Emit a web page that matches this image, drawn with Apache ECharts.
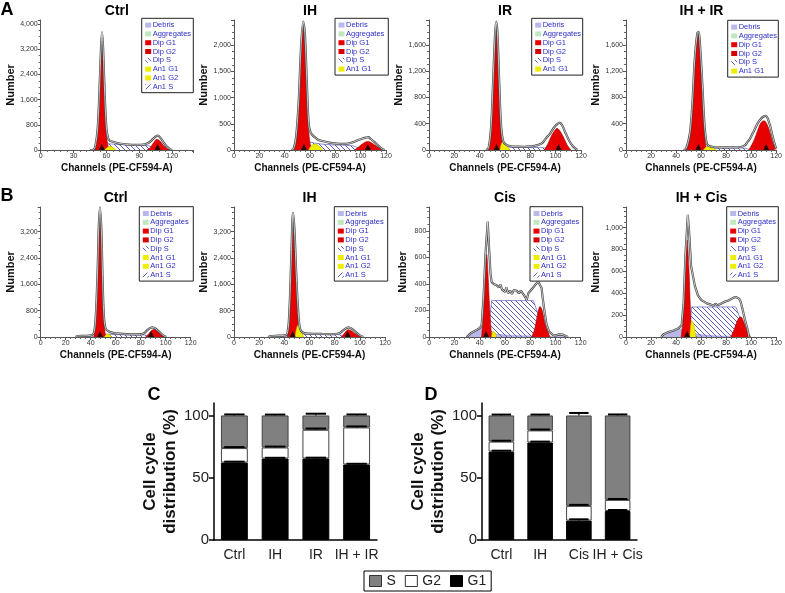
<!DOCTYPE html>
<html><head><meta charset="utf-8">
<script src="https://cdn.jsdelivr.net/npm/echarts@6/dist/echarts.min.js"></script>
<style>html,body{margin:0;padding:0;background:#fff}#c{width:785px;height:593px}</style>
</head><body><div id="c"></div>
<script>
// ================= DATA =================
const histTitles = ['Ctrl', 'IH', 'IR', 'IH + IR', 'Ctrl', 'IH', 'Cis', 'IH + Cis'];
const histLegendNames = ['Debris', 'Aggregates', 'Dip G1', 'Dip G2', 'Dip S', 'An1 G1', 'An1 G2', 'An1 S'];

// Panel A – Ctrl
const aCtrlTotal = [[45,0],[48,10],[50,150],[52,700],[53.5,1800],[55,3200],[56,3740],[57,3200],[58.5,1700],[60,700],[61.5,380],[63,300],[66,260],[70,220],[75,190],[80,170],[85,160],[90,165],[95,180],[98,220],[101,300],[104,400],[106.5,455],[109,400],[112,250],[115,110],[118,30],[120,0]];
const aCtrlG1 = [[48,0],[50,120],[52,650],[53.5,1700],[55,3100],[55.8,3550],[57,3050],[58.5,1500],[60,500],[61.5,120],[63,0]];
const aCtrlG2 = [[97,0],[100,80],[103,230],[106,340],[109,280],[112,150],[115,50],[118,0]];
const aCtrlS = [[57,0],[60,200],[65,190],[75,165],[85,150],[95,150],[99,130],[103,60],[106,0]];
const aCtrlAn1 = [[58,0],[61,90],[63,120],[65,100],[67,50],[69,0]];
const aCtrlMarks = [55.8, 106.7];
// Panel A – IH
const aIhTotal = [[45,0],[47,20],[49,250],[51,900],[53,2000],[54.7,2450],[56,2200],[57.5,1300],[59,500],[60.5,330],[63,260],[66,200],[70,170],[75,140],[80,125],[85,115],[90,120],[94,150],[98,190],[101,215],[104,235],[106,245],[108,210],[111,150],[114,80],[117,20],[119,0]];
const aIhG1 = [[47,0],[49,200],[51,850],[53,1900],[54.7,2360],[56,2050],[57.5,1150],[59,350],[60.5,60],[61.5,0]];
const aIhG2 = [[95,0],[98,50],[101,110],[104,155],[106,160],[109,130],[112,80],[115,30],[118,0]];
const aIhS = [[58,0],[60,150],[64,130],[70,110],[80,95],[88,90],[94,80],[98,40],[101,0]];
const aIhAn1 = [[59,0],[61,80],[64,115],[67,80],[69,30],[70,0]];
const aIhMarks = [55.2, 105.7];
// Panel A – IR
const aIrTotal = [[45,0],[47,30],[49,350],[50.5,1000],[52,1700],[53,1955],[54,1800],[55.5,1000],[57,350],[58.7,130],[61,80],[65,55],[70,50],[75,48],[80,55],[85,70],[89,100],[92,170],[95.7,254],[99,350],[101,390],[103,416],[105,380],[108,250],[111,130],[114,50],[117,0]];
const aIrG1 = [[47,0],[49,300],[50.5,950],[52,1650],[53,1905],[54,1720],[55.5,900],[57,250],[58.5,0]];
const aIrG2 = [[91,0],[94,100],[97,230],[100,315],[101,330],[103,300],[106,200],[109,80],[112,0]];
const aIrS = [[57,0],[59,60],[62,45],[70,38],[80,38],[88,40],[92,30],[95,0]];
const aIrAn1 = [[56,0],[58,120],[60,100],[62,50],[64,0]];
const aIrMarks = [53.4, 102.3];
// Panel A – IH + IR
const aIhIrTotal = [[46,0],[48,20],[51,250],[53,700],[55,1400],[57,1780],[58,1800],[59,1650],[61,1000],[62.5,450],[64,150],[65.5,70],[70,45],[80,40],[90,42],[95,70],[97,120],[99,170],[102,280],[105,400],[108,480],[110,510],[111.5,521],[113,490],[115,380],[117,220],[119,80],[120,20]];
const aIhIrG1 = [[48,0],[50,100],[52,380],[54,1000],[56,1600],[57.9,1764],[59,1600],[61,850],[62.5,300],[64,40],[65,0]];
const aIhIrG2 = [[98,0],[100,60],[103,180],[106,340],[108,420],[110.2,445],[112,420],[114,330],[116,200],[118,80],[120,10]];
const aIhIrS = [[62,0],[64,40],[68,35],[75,30],[85,28],[93,30],[96,25],[99,0]];
const aIhIrAn1 = [[62,0],[64,45],[67,55],[70,35],[72,0]];
const aIhIrMarks = [57.9, 112];
// Panel B – Ctrl
const bCtrlTotal = [[28,0],[30,30],[35,35],[40,50],[42.5,120],[44,600],[45.5,2000],[46.5,3400],[47.4,3930],[48.5,3300],[49.5,1800],[50.5,700],[52,250],[55,160],[58,125],[63,100],[69,85],[75,80],[80,85],[83,120],[85,200],[87,260],[89.6,290],[92,250],[95,150],[98,50],[100.5,0]];
const bCtrlG1 = [[42.5,0],[44,500],[45.5,1900],[46.5,3250],[47.4,3800],[48.5,3150],[49.5,1650],[50.5,550],[51.5,120],[52.5,0]];
const bCtrlG2 = [[84,0],[86,80],[88.5,190],[90.7,226],[93,180],[96,80],[99.5,0]];
const bCtrlS = [[50,0],[52,90],[56,80],[62,70],[70,65],[78,65],[83,60],[86,25],[88,0]];
const bCtrlAn1 = [[51,0],[53,90],[55,70],[57,0]];
const bCtrlDebris = [[28,0],[30,25],[35,30],[40,35],[43,20],[46,0]];
const bCtrlMarks = [47.5, 88.3];
// Panel B – IH
const bIhTotal = [[27,0],[30,30],[35,40],[40,50],[42.4,100],[44,800],[45.5,2400],[46.9,3774],[48,3300],[49.5,1900],[51,800],[52.5,250],[55,130],[60,100],[70,92],[80,90],[84,120],[87,210],[90.9,293],[94,240],[97,140],[100,50],[102.8,0]];
const bIhG1 = [[42.4,0],[44,700],[45.5,2250],[46.9,3350],[48,2950],[49.5,1600],[51,500],[52,0]];
const bIhG2 = [[85.6,0],[88,130],[90.9,222],[94,170],[97.5,70],[101.5,0]];
const bIhS = [[51,0],[53,100],[58,85],[66,80],[76,80],[84,70],[87,30],[89,0]];
const bIhAn1 = [[48.5,0],[50,300],[51.5,380],[53.5,150],[55.5,0]];
const bIhDebris = [[27,0],[30,25],[36,35],[41,40],[44,20],[46,0]];
const bIhMarks = [46.6, 90.3];
// Panel B – Cis
const bCisTotal = [[29.6,0],[31,15],[33,30],[36,45],[38,55],[40,68],[41.5,90],[43,300],[44.5,620],[46.3,871],[47.5,650],[48.5,480],[49.4,415],[51,400],[53.4,390],[55,375],[56.5,395],[57.5,360],[58.7,370],[60,340],[61,375],[62.5,330],[64,350],[65.5,325],[67,355],[69.3,349],[71,330],[72.5,350],[74.5,324],[76,330],[77.2,281],[78.5,330],[79.8,344],[82.5,375],[84.5,400],[86.4,415],[87.8,405],[89,370],[89.9,294],[91.5,180],[93,91],[95,40],[98,15],[100,12],[103,20],[106,18],[108,8],[110,0]];
const bCisG1 = [[41.5,0],[43,200],[44.5,500],[45.5,623],[46.5,480],[47.8,220],[49.4,0]];
const bCisG2 = [[81.2,0],[83.5,60],[86,180],[87.8,230],[89.5,200],[92,90],[95.7,0]];
const bCisS = [[46,0],[47.6,120],[49.4,275],[60,275],[70,275],[82.5,275],[87,150],[93,0]];
const bCisAn1 = [[49.4,0],[50.5,42],[52,35],[53.4,0]];
const bCisDebris = [[29.6,0],[32,30],[35,45],[38,55],[40,65],[41.5,75],[44,60],[48,35],[55,20],[65,12],[80,8],[90,5],[95,2],[98,5],[101,12],[104,15],[107,10],[109,0]];
const bCisMarks = [45];
// Panel B – IH + Cis
const bIhCisTotal = [[28,0],[30,25],[34,45],[38,60],[42,80],[44.5,110],[46,300],[47.5,750],[49.4,1117],[50.5,950],[52,650],[53.4,566],[55,470],[57.4,383],[60,340],[62.6,321],[65,305],[67.9,296],[70,285],[71.5,305],[73.2,290],[75,300],[76.5,285],[78.5,321],[81,330],[83.8,345],[86,360],[87.8,366],[89,360],[90.4,351],[91.7,320],[93,260],[95,160],[97,78],[98.3,0]];
const bIhCisG1 = [[44.1,0],[45.5,150],[47,500],[48.9,887],[50.2,650],[51.5,250],[52.6,0]];
const bIhCisG2 = [[83.8,0],[86.5,70],[89,150],[91.7,185],[94,140],[97,50],[99.7,0]];
const bIhCisS = [[50,0],[51,100],[52.5,275],[65,275],[80,275],[87.8,275],[92,150],[97,0]];
const bIhCisAn1 = [[51,0],[52.5,150],[54,120],[55,60],[56,0]];
const bIhCisDebris = [[28,0],[30,25],[34,45],[38,60],[42,75],[45,70],[50,45],[58,25],[70,12],[85,6],[95,0]];
const bIhCisMarks = [48.9];

// Panels C & D (cell cycle distribution, %)
const legendNames = ['S', 'G2', 'G1'];
const catsC = ['Ctrl', 'IH', 'IR', 'IH + IR'];
const g1C = [62.2, 65.4, 65.5, 60.6];
const g2C = [11.6, 8.9, 23.0, 29.8];
const sC  = [26.2, 25.7, 11.5, 9.6];
const errG1C = [0.7, 0.6, 0.6, 0.6];
const errG2C = [0.8, 0.7, 1.0, 0.8];
const errSC  = [0.8, 0.7, 1.4, 0.8];
const catsD = ['Ctrl', 'IH', 'Cis', 'IH + Cis'];
const g1D = [71.0, 78.3, 15.6, 23.3];
const g2D = [8.0, 9.7, 11.8, 8.9];
const sD  = [21.0, 12.0, 72.6, 67.8];
const errG1D = [0.7, 0.7, 1.0, 0.8];
const errG2D = [0.7, 0.7, 0.8, 0.7];
const errSD  = [0.7, 0.7, 2.0, 0.8];
const barTicks = [0, 50, 100];

// ================= LAYOUT / STYLE =================
const FONT = 'Liberation Sans, Arial, Helvetica, sans-serif';
const panels = [
  {total:aCtrlTotal, g1:aCtrlG1, g2:aCtrlG2, s:aCtrlS, an1:aCtrlAn1, debris:null, marks:aCtrlMarks, smooth:0.35},
  {total:aIhTotal, g1:aIhG1, g2:aIhG2, s:aIhS, an1:aIhAn1, debris:null, marks:aIhMarks, smooth:0.35},
  {total:aIrTotal, g1:aIrG1, g2:aIrG2, s:aIrS, an1:aIrAn1, debris:null, marks:aIrMarks, smooth:0.35},
  {total:aIhIrTotal, g1:aIhIrG1, g2:aIhIrG2, s:aIhIrS, an1:aIhIrAn1, debris:null, marks:aIhIrMarks, smooth:0.35},
  {total:bCtrlTotal, g1:bCtrlG1, g2:bCtrlG2, s:bCtrlS, an1:bCtrlAn1, debris:bCtrlDebris, marks:bCtrlMarks, smooth:0.35},
  {total:bIhTotal, g1:bIhG1, g2:bIhG2, s:bIhS, an1:bIhAn1, debris:bIhDebris, marks:bIhMarks, smooth:0.35},
  {total:bCisTotal, g1:bCisG1, g2:bCisG2, s:bCisS, an1:bCisAn1, debris:bCisDebris, marks:bCisMarks, smooth:false},
  {total:bIhCisTotal, g1:bIhCisG1, g2:bIhCisG2, s:bIhCisS, an1:bIhCisAn1, debris:bIhCisDebris, marks:bIhCisMarks, smooth:false}
];
const layout = [
  {left:40.7, top:20, width:152.3, xMax:139, xInt:30, yMax:4130, yInt:800, leg:[141.7,18.3,193.3,8]},
  {left:234, top:20, width:152, xMax:120, xInt:20, yMax:2480, yInt:500, leg:[335,18.3,388.3,6]},
  {left:429, top:20, width:152, xMax:120, xInt:20, yMax:1980, yInt:400, leg:[531.7,18.3,582.7,6]},
  {left:626, top:20, width:151, xMax:120, xInt:20, yMax:1980, yInt:400, leg:[727.7,20.3,778.3,6]},
  {left:40.7, top:207, width:150, xMax:120, xInt:20, yMax:3950, yInt:800, leg:[139.3,206.7,193.3,8]},
  {left:234, top:207, width:151, xMax:120, xInt:20, yMax:3950, yInt:800, leg:[334.3,206.7,387.7,8]},
  {left:429.3, top:207, width:151.4, xMax:120, xInt:20, yMax:981, yInt:200, leg:[530,206.7,582.7,8]},
  {left:626, top:207, width:151, xMax:120, xInt:20, yMax:1189, yInt:200, leg:[726.7,206.7,778.3,8]}
];
const HIST_H = 130;
const RED = '#e60000', RED2 = '#d40000', YEL = '#f0ee00', LAV = '#b8b8ea', GRN = '#bfe8bf';
const HATCH_COL = '#4a4ab8';

function hatchCanvas(dir) {
  const c = document.createElement('canvas'); c.width = 5; c.height = 5;
  const g = c.getContext('2d');
  g.strokeStyle = HATCH_COL; g.lineWidth = 0.9; g.beginPath();
  if (dir === '\\') { g.moveTo(-1,-1); g.lineTo(6,6); g.moveTo(-1,4); g.lineTo(1,6); g.moveTo(4,-1); g.lineTo(6,1); }
  else { g.moveTo(-1,6); g.lineTo(6,-1); g.moveTo(-1,1); g.lineTo(1,-1); g.moveTo(4,6); g.lineTo(6,4); }
  g.stroke(); return c;
}
const hatchBack = {image: hatchCanvas('\\'), repeat: 'repeat'};
const hatchFwd = {image: hatchCanvas('/'), repeat: 'repeat'};
const swatch = {'Debris':LAV, 'Aggregates':GRN, 'Dip G1':RED, 'Dip G2':RED2, 'Dip S':hatchBack, 'An1 G1':YEL, 'An1 G2':YEL, 'An1 S':hatchFwd};

function commas(v) { return String(v).replace(/\B(?=(\d{3})+(?!\d))/g, ','); }

const grid = [], xAxis = [], yAxis = [], series = [], graphic = [];

panels.forEach((p, i) => {
  const L = layout[i];
  grid.push({left:L.left, top:L.top, width:L.width, height:HIST_H, containLabel:false});
  xAxis.push({
    gridIndex:i, type:'value', min:0, max:L.xMax, interval:L.xInt,
    axisLine:{show:true, onZero:false, lineStyle:{color:'#555', width:1}},
    axisTick:{show:true, length:3, lineStyle:{color:'#555'}},
    minorTick:{show:true, splitNumber:5, length:2, lineStyle:{color:'#666'}},
    splitLine:{show:false},
    axisLabel:{fontSize:7, color:'#333', margin:3, fontFamily:FONT, showMaxLabel: L.xMax % L.xInt === 0},
    name:'Channels (PE-CF594-A)', nameLocation:'middle', nameGap:13,
    nameTextStyle:{fontWeight:'bold', fontSize:10, color:'#111', fontFamily:FONT}
  });
  yAxis.push({
    gridIndex:i, type:'value', min:0, max:L.yMax, interval:L.yInt,
    axisLine:{show:true, lineStyle:{color:'#555', width:1}},
    axisTick:{show:true, length:3, lineStyle:{color:'#555'}},
    minorTick:{show:true, splitNumber:4, length:2, lineStyle:{color:'#666'}},
    splitLine:{show:false},
    axisLabel:{fontSize:7, color:'#333', margin:3, fontFamily:FONT, showMaxLabel:false, formatter:commas},
    name:'Number', nameLocation:'middle', nameRotate:90, nameGap:21,
    nameTextStyle:{fontWeight:'bold', fontSize:11, color:'#111', fontFamily:FONT}
  });
  const area = (data, color, lineColor, z, smooth) => ({
    type:'line', xAxisIndex:i, yAxisIndex:i, data, symbol:'none', smooth, z, silent:true, animation:false,
    lineStyle:{width:0.6, color:lineColor}, areaStyle:{color, opacity:1}
  });
  if (p.debris) series.push(area(p.debris, LAV, '#9a9ad8', 1, 0.3));
  series.push(area(p.s, hatchBack, HATCH_COL, 2, false));
  series.push(area(p.g2, RED, '#a00000', 3, 0.35));
  series.push(area(p.g1, RED, '#a00000', 4, 0.35));
  series.push(area(p.an1, YEL, '#c8c000', 5, 0.3));
  series.push({type:'line', xAxisIndex:i, yAxisIndex:i, data:p.total, symbol:'none', smooth:p.smooth, z:6, silent:true,
    lineStyle:{width:2.2, color:'#444'}});
  series.push({type:'line', xAxisIndex:i, yAxisIndex:i, data:p.total, symbol:'none', smooth:p.smooth, z:7, silent:true,
    lineStyle:{width:0.7, color:'#fff'}});
  series.push({type:'scatter', xAxisIndex:i, yAxisIndex:i, data:p.marks.map(x => [x, 0]), symbol:'triangle',
    symbolSize:[6,6], symbolOffset:[0,-3], itemStyle:{color:'#000'}, z:9, silent:true, clip:false});

  // title
  graphic.push({type:'text', x:L.left + L.width/2, y:L.top - 9, z:100,
    style:{text:histTitles[i], font:'bold 14px ' + FONT, fill:'#000', align:'center', verticalAlign:'middle'}});
  // legend box
  const [x0, y0, x1, n] = L.leg;
  const rowH = 8.8;
  graphic.push({type:'rect', z:100, shape:{x:x0, y:y0, width:x1-x0, height:n*rowH + 4},
    style:{fill:'#fff', stroke:'#222', lineWidth:1}});
  for (let k = 0; k < n; k++) {
    const nm = histLegendNames[k];
    const cy = y0 + 6.8 + k*rowH;
    graphic.push({type:'rect', z:101, shape:{x:x0+3.5, y:cy-2.5, width:6, height:5},
      style:{fill:swatch[nm], stroke:null}});
    graphic.push({type:'text', z:101, x:x0+11, y:cy,
      style:{text:nm, font:'7.5px ' + FONT, fill:'#2d2dc8', align:'left', verticalAlign:'middle'}});
  }
});

// ----- bar charts C & D -----
function barBlock(gi, cats, g1, g2, s, e1, e2, es, gr) {
  grid.push(gr);
  xAxis.push({gridIndex:gi, type:'category', data:cats,
    axisLine:{lineStyle:{color:'#000', width:1.5}}, axisTick:{show:false},
    axisLabel:{fontSize:14, color:'#222', margin:8, fontFamily:FONT, interval:0}});
  yAxis.push({gridIndex:gi, type:'value', min:0, max:110,
    axisLine:{show:true, lineStyle:{color:'#000', width:1.5}},
    axisTick:{show:true, length:5, lineStyle:{color:'#000', width:1.5}, customValues:barTicks},
    axisLabel:{fontSize:15, color:'#222', margin:5, fontFamily:FONT, customValues:barTicks},
    splitLine:{show:false},
    name:'Cell cycle\ndistribution (%)', nameLocation:'middle', nameRotate:90, nameGap:34,
    nameTextStyle:{fontWeight:'bold', fontSize:17, lineHeight:20, color:'#111', fontFamily:FONT}});
  const bar = (name, data, color, border) => ({type:'bar', name, stack:'st'+gi, xAxisIndex:gi, yAxisIndex:gi,
    data, barWidth:'66%', itemStyle:{color, borderColor:border, borderWidth:1}, z:2});
  series.push(bar('G1', g1, '#000', '#000'));
  series.push(bar('G2', g2, '#fff', '#444'));
  series.push(bar('S', s, '#808080', '#444'));
  const top1 = g1, top2 = g1.map((v,k) => v + g2[k]), top3 = top2.map((v,k) => v + s[k]);
  const errData = [];
  cats.forEach((c,k) => { errData.push([k, top1[k], e1[k]]); errData.push([k, top2[k], e2[k]]); errData.push([k, top3[k], es[k]]); });
  series.push({type:'custom', xAxisIndex:gi, yAxisIndex:gi, z:5, silent:true, data:errData,
    encode:{x:0, y:1},
    renderItem(params, api) {
      const x = api.value(0), t = api.value(1), e = api.value(2);
      const p0 = api.coord([x, t]), p1 = api.coord([x, t + e]);
      const w = api.size([1, 0])[0] * 0.5;
      return {type:'group', children:[
        {type:'line', shape:{x1:p0[0], y1:p0[1], x2:p1[0], y2:p1[1]}, style:{stroke:'#000', lineWidth:1.2}},
        {type:'line', shape:{x1:p1[0]-w/2, y1:p1[1], x2:p1[0]+w/2, y2:p1[1]}, style:{stroke:'#000', lineWidth:2}}
      ]};
    }});
}
barBlock(8, catsC, g1C, g2C, sC, errG1C, errG2C, errSC, {left:214, top:403, width:163, height:137});
barBlock(9, catsD, g1D, g2D, sD, errG1D, errG2D, errSD, {left:482, top:403, width:155, height:137});

// panel letters
[['A',7,10],['B',7,196],['C',154,395],['D',431,395]].forEach(([t,x,y]) => {
  graphic.push({type:'text', x, y, z:100, style:{text:t, font:'bold 18px ' + FONT, fill:'#000', align:'center', verticalAlign:'middle'}});
});

const legendStyle = {S:{color:'#808080', borderColor:'#333', borderWidth:1}, G2:{color:'#fff', borderColor:'#333', borderWidth:1}, G1:{color:'#000', borderColor:'#000', borderWidth:1}};
const option = {
  animation:false,
  backgroundColor:'#fff',
  grid, xAxis, yAxis, series, graphic,
  legend:{data: legendNames.map(n => ({name:n, icon:'rect', itemStyle:legendStyle[n]})),
    left:364, top:571, orient:'horizontal', itemWidth:12, itemHeight:11, itemGap:9,
    padding:[3,5,3,5], borderColor:'#000', borderWidth:1, selectedMode:false,
    textStyle:{fontSize:14, color:'#222', fontFamily:FONT}}
};
const chart = echarts.init(document.getElementById('c'), null, {renderer:'canvas', width:785, height:593});
chart.setOption(option);
</script>
</body></html>
